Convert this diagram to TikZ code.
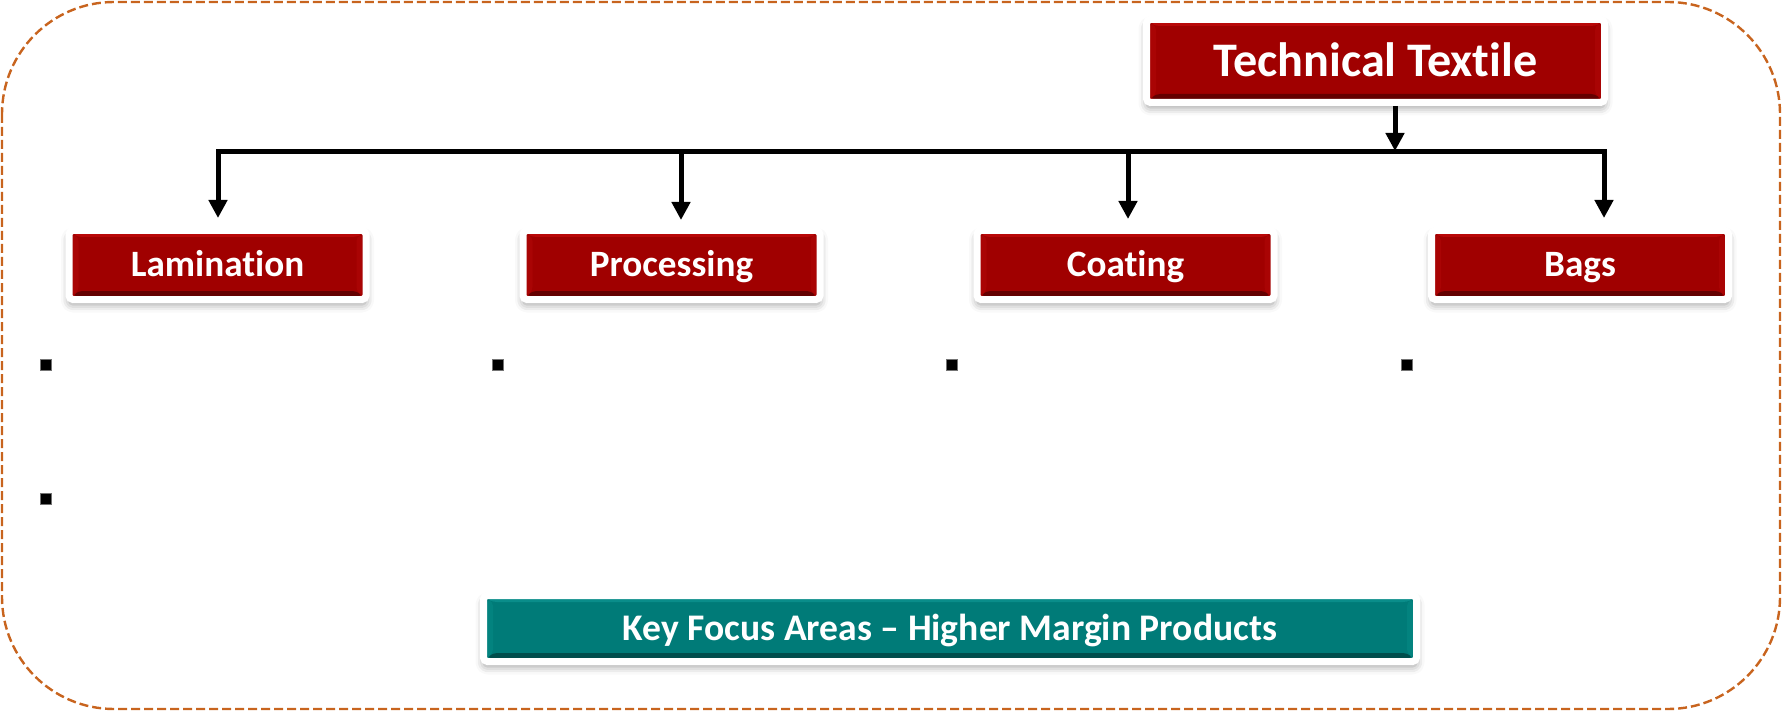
\documentclass[tikz,border=0pt]{standalone}
\usepackage{fontspec}
\setmainfont[Ligatures=NoCommon]{Carlito}
\usetikzlibrary{arrows.meta,shadows.blur,calc}
\definecolor{redmain}{HTML}{A00000}
\definecolor{redlight}{HTML}{B80808}
\definecolor{reddark}{HTML}{640000}
\definecolor{redside}{HTML}{A90404}
\definecolor{tealmain}{HTML}{007B78}
\definecolor{teallight}{HTML}{0A8D8A}
\definecolor{tealdark}{HTML}{004E4C}
\definecolor{tealside}{HTML}{03837F}
\definecolor{bordercol}{HTML}{C8641E}
\tikzset{
  bevel/.style n args={3}{path picture={
    \coordinate (bnw) at ([shift={(1.75pt,-1.75pt)}]path picture bounding box.north west);
    \coordinate (bne) at ([shift={(-1.75pt,-1.75pt)}]path picture bounding box.north east);
    \coordinate (bsw) at ([shift={(1.75pt,1.75pt)}]path picture bounding box.south west);
    \coordinate (bse) at ([shift={(-1.75pt,1.75pt)}]path picture bounding box.south east);
    \fill[#1] (bnw) -- (bne) -- ([shift={(-3pt,-1.5pt)}]bne) -- ([shift={(3pt,-1.5pt)}]bnw) -- cycle;
    \fill[#2] (bsw) -- (bse) -- ([shift={(-3pt,2.5pt)}]bse) -- ([shift={(3pt,2.5pt)}]bsw) -- cycle;
    \fill[#3] (bnw) -- ([shift={(3pt,-1.5pt)}]bnw) -- ([shift={(3pt,2.5pt)}]bsw) -- (bsw) -- cycle;
    \fill[#3] (bne) -- ([shift={(-3pt,-1.5pt)}]bne) -- ([shift={(-3pt,2.5pt)}]bse) -- (bse) -- cycle;
  }},
  box/.style={draw=white, line width=3.5pt, rounded corners=2pt,
    blur shadow={shadow xshift=0pt, shadow yshift=-2.5pt, shadow blur radius=4pt, shadow opacity=40},
    text=white, inner sep=0pt, text depth=0pt},
  redbox/.style={box, fill=redmain, bevel={redlight}{reddark}{redside},
    minimum width=148.5pt, minimum height=34.5pt, text height=12pt,
    font=\bfseries\fontsize{18.6}{20}\selectfont},
  topbox/.style={redbox, minimum width=229pt, minimum height=41.5pt, text height=15.5pt,
    font=\bfseries\fontsize{24.1}{26}\selectfont},
  tealbox/.style={box, fill=tealmain, bevel={teallight}{tealdark}{tealside},
    minimum width=466.5pt, minimum height=33pt, text height=12.1pt,
    font=\bfseries\fontsize{18.8}{21}\selectfont},
  bar/.style={line width=2.5pt, black, line join=miter},
  tip/.style={-{Triangle[width=9pt,length=9pt]}},
  bul/.style={fill=black, draw=black!55, line width=0.3pt, minimum size=5.5pt, inner sep=0pt},
  frameline/.style={draw=bordercol, line width=1.2pt, dash pattern=on 4.5pt off 2pt}
}
\begin{document}
\begin{tikzpicture}[x=0.5pt,y=-0.5pt]
\useasboundingbox (0,0) rectangle (1782,711);
\draw[frameline, rounded corners=56pt] (2,2) rectangle (1780,709);

\node[topbox] (top) at (1375.5,61) {Technical Textile};
\node[redbox] (lam) at (217.5,265) {Lamination};
\node[redbox] (proc) at (671.5,265) {Processing};
\node[redbox] (coat) at (1125.5,265) {Coating};
\node[redbox] (bags) at (1580,265) {Bags};
\node[tealbox] (key) at (950,628.5) {Key Focus Areas – Higher Margin Products};

\coordinate (aT) at (1395,151);
\coordinate (aL) at (218,152);
\coordinate (aP) at (681,152);
\coordinate (aC) at (1128,152);
\coordinate (aB) at (1604,152);

\draw[bar,tip,shorten >=0pt] (top.south -| aT) -- (aT);
\draw[bar,{Triangle[width=9pt,length=9pt]}-{Triangle[width=9pt,length=9pt]},shorten <=4.5pt,shorten >=4.5pt]
  (lam.north -| aL) -- (aL) -- (aB) -- (bags.north -| aB);
\draw[bar,tip,shorten >=3.5pt] (aP) -- (proc.north -| aP);
\draw[bar,tip,shorten >=4pt] (aC) -- (coat.north -| aC);

\node[bul] (b1) at (45.5,365) {};
\node[bul] (b2) at (45.5,499) {};
\node[bul] (b3) at (498,365) {};
\node[bul] (b4) at (952,365) {};
\node[bul] (b5) at (1407,365) {};
\end{tikzpicture}
\end{document}
